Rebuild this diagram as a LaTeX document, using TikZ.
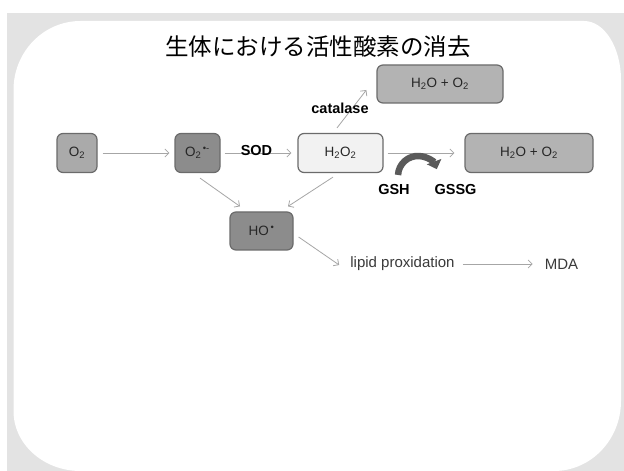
\documentclass[tikz,border=0pt]{standalone}
\usepackage{fontspec}
\setmainfont{Liberation Sans}
\newfontfamily\cjk{Noto Sans CJK JP}
\usetikzlibrary{arrows.meta,calc}
\definecolor{bggray}{HTML}{E3E3E3}
\definecolor{boxborder}{HTML}{6B6B6B}
\definecolor{arrowgray}{HTML}{A6A6A6}
\definecolor{midfill}{HTML}{AAAAAA}
\definecolor{darkfill}{HTML}{8C8C8C}
\definecolor{lightfill}{HTML}{F2F2F2}
\definecolor{prodfill}{HTML}{B3B3B3}
\definecolor{curvegray}{HTML}{5A5A5A}
\definecolor{textgray}{HTML}{3A3A3A}
\begin{document}
\begin{tikzpicture}[x=1pt,y=1pt,
  box/.style={draw=boxborder, line width=1.2pt, rounded corners=6pt,
    minimum height=39pt, inner sep=0pt, text=black!85,
    font=\fontsize{13.5}{15}\selectfont},
  conn/.style={draw=arrowgray, line width=0.8pt,
    -{Straight Barb[length=4pt,width=8pt]}},
  lab/.style={inner sep=0pt, font=\fontsize{14.5}{16}\selectfont\bfseries},
  txt/.style={inner sep=0pt, text=textgray, font=\fontsize{15}{17}\selectfont}]
\useasboundingbox (0,0) rectangle (624,471);
\fill[white] (0,0) rectangle (624,471);
\fill[bggray] (7,0) rectangle (624,458);
\fill[white] (13.5,60) -- (13.5,381)
  arc[start angle=180,end angle=90,x radius=67,y radius=69] -- (584,450)
  arc[start angle=90,end angle=0,x radius=37,y radius=59] -- (621,70)
  arc[start angle=0,end angle=-90,x radius=67,y radius=70] -- (80.5,0)
  arc[start angle=270,end angle=180,x radius=67,y radius=60] -- cycle;

\node[inner sep=0pt, font=\cjk\fontsize{23.5}{26}\selectfont] (title) at (318,424) {生体における活性酸素の消去};

\node[box, fill=midfill, minimum width=40pt] (o2) at (77,318) {O\textsubscript{2}};
\node[box, fill=darkfill, minimum width=45pt] (o2r) at (197.5,318) {O\textsubscript{2}\textsuperscript{\,•-}};
\node[box, fill=lightfill, minimum width=85pt] (h2o2) at (340.5,318) {H\textsubscript{2}O\textsubscript{2}};
\node[box, fill=prodfill, minimum width=126pt, minimum height=38pt] (top) at (440,387) {H\textsubscript{2}O + O\textsubscript{2}};
\node[box, fill=prodfill, minimum width=128pt] (right) at (529,318) {H\textsubscript{2}O + O\textsubscript{2}};
\node[box, fill=darkfill, minimum width=63pt, minimum height=38pt] (ho) at (261.5,240) {HO\textsuperscript{\,•}};

\node[txt] (lipid) at (402.5,207) {lipid proxidation};
\node[txt] (mda) at (561.5,207) {MDA};

\draw[conn, shorten <=5pt, shorten >=5pt] (o2) -- (o2r);
\draw[conn, shorten <=4pt, shorten >=6pt] (o2r) -- (h2o2);
\draw[conn, shorten <=4pt, shorten >=10pt] (h2o2) -- (right);
\draw[conn] ($(h2o2.north)+(-3.5,5)$) -- ($(top.west)+(-10,-6)$);
\draw[conn] ($(o2r.south)+(2.5,-5)$) -- ($(ho.north)+(-21.5,5)$);
\draw[conn] ($(h2o2.south)+(-7.5,-4)$) -- ($(ho.north)+(26.5,5)$);
\draw[conn] ($(ho.east)+(5,-6)$) -- ($(lipid.west)+(-11,-1)$);
\draw[conn, shorten <=8pt, shorten >=12pt] (lipid) -- (mda);

\node[lab] (sod) at (256.5,320) {SOD};
\node[lab] (catalase) at (340,363) {catalase};
\node[lab] (gsh) at (394,281) {GSH};
\node[lab] (gssg) at (455.5,281) {GSSG};

\coordinate (arcc) at (418,295);
\draw[curvegray, line width=6.5pt, -{Triangle[length=8pt,width=15pt]}]
  ($(arcc)+(177:20)$) arc[start angle=177,end angle=20,radius=20];
\end{tikzpicture}
\end{document}
